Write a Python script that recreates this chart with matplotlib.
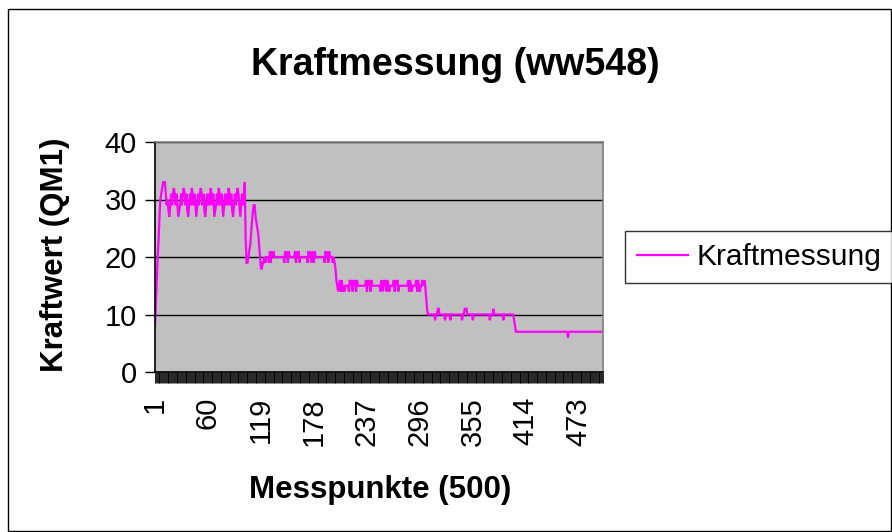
import matplotlib
matplotlib.use("Agg")
import matplotlib.pyplot as plt
from matplotlib.patches import Rectangle
from matplotlib.lines import Line2D

plt.rcParams['font.family'] = ['Liberation Sans', 'DejaVu Sans']

title = "Kraftmessung (ww548)"
x_title = "Messpunkte (500)"
y_title = "Kraftwert (QM1)"
series_name = "Kraftmessung"

# Force readings, one per measuring point (1..500)
level_30 = [
    8, 12, 16, 20, 23, 27, 30, 31, 32, 33, 33, 33, 31, 29,
    30, 28, 27, 29, 31, 29, 31, 32, 31, 29,
    31, 29, 27, 28, 29, 31, 29, 31, 32, 31,
    29, 31, 28, 27, 29, 31, 29, 32, 31, 29,
    31, 29, 27, 29, 31, 29, 31, 32, 31, 29,
    31, 28, 27, 29, 31, 29, 31, 29, 32, 31,
    29, 31, 27, 28, 29, 31, 29, 32, 31, 29,
    31, 29, 27, 29, 31, 29, 31, 29, 32, 31,
    29, 31, 28, 27, 29, 31, 29, 31, 32, 31,
    29, 27, 29, 31, 29, 31, 33,
]
transition_1 = [23, 19, 19, 20, 21, 22, 24, 26, 28, 29, 29, 27, 26, 25, 24, 22, 20, 18, 18, 19]
level_20 = [
    19, 20, 19, 20, 20, 20,
    19, 21, 19, 21, 20, 21, 20,
    20, 20, 20, 20, 20, 20, 20, 20, 20, 20,
    19, 21, 20, 21, 19, 21, 20,
    20, 20, 20, 20, 20,
    21, 19, 21, 20, 21, 19, 20,
    20, 20, 20, 20, 20, 20, 20,
    19, 21, 20, 21, 19, 20,
    21, 19, 21, 20, 20,
    20, 20, 20, 20, 20, 20, 20, 20,
    19, 21, 20, 21, 19, 21, 20,
    20, 20, 19,
]
transition_2 = [20, 19, 18, 16, 15, 14]
level_15 = [
    15, 16, 14, 16, 14, 15, 14, 15, 15, 15, 15,
    14, 16, 15, 16, 14, 16, 15, 16, 14, 16, 15, 15,
    15, 15, 15, 15, 15, 15, 15,
    16, 14, 16, 15, 16, 14, 16, 15,
    15, 15, 15, 15, 15, 15, 15, 15,
    14, 16, 15, 14, 16, 15, 16, 14, 16, 15, 14, 15,
    15, 15, 15,
    16, 14, 16, 15, 16, 14, 15,
    15, 15, 15, 15, 15, 15, 15, 15, 15,
    16, 14, 16, 15, 14, 15,
    15, 15, 15,
    16, 14, 16, 15, 14, 15,
    15, 16, 15, 16,
]
transition_3 = [15, 13, 11, 10]
level_10 = [
    10, 10, 10, 10, 10, 10, 10, 9, 10, 10, 11, 11,
    10, 10, 10, 10, 10, 10, 9, 10, 10, 10, 10, 10, 9,
    10, 10, 10, 10, 10, 10, 10, 10, 10, 10, 10,
    10, 9, 10, 10, 11, 11, 11, 10,
    10, 10, 10, 10, 10, 9,
    10, 10, 10, 10, 10, 10, 10, 10, 10, 10, 10, 10, 10, 10, 10, 10, 10, 10,
    9, 10, 10, 10, 11, 10,
    10, 10, 10, 10, 10, 10, 10, 10, 10, 9,
    10, 10, 10, 10, 10, 10, 10, 10, 10, 10, 10,
]
level_7 = [9, 8] + [7] * 58 + [6] + [7] * 39

kraft = level_30 + transition_1 + level_20 + transition_2 + level_15 + transition_3 + level_10 + level_7
points = list(range(1, len(kraft) + 1))
label_step = 59

W, H = 892, 532
fig = plt.figure(figsize=(W / 100, H / 100), dpi=100)
fig.patch.set_facecolor('white')

# outer chart border
fig.patches.append(Rectangle((8 / W, 1 / H), (W - 9) / W, (H - 10) / H, transform=fig.transFigure,
                             fill=False, edgecolor='black', linewidth=1.0))

ax = fig.add_axes([155 / W, 1 - 372 / H, 448 / W, 230 / H])
ax.set_facecolor('#C0C0C0')
ax.plot(range(len(kraft)), kraft, color='#FF00FF', linewidth=1.6, solid_joinstyle='miter')
ax.set_xlim(0, len(kraft) - 1)
ax.set_ylim(0, 40)
ax.set_yticks([0, 10, 20, 30, 40])
ax.yaxis.grid(True, color='black', linewidth=1.0)
ax.set_axisbelow(True)

ax.set_xticks(range(len(kraft)))
ax.set_xticklabels([str(p) if (p - 1) % label_step == 0 else '' for p in points], rotation=90, fontsize=21)
ax.tick_params(axis='x', length=8, width=0.6, direction='out', pad=10)
ax.tick_params(axis='y', length=7, width=1, direction='out', pad=6, labelsize=21)

for s in ['top', 'right']:
    ax.spines[s].set_color('#808080')
    ax.spines[s].set_linewidth(1.2)
for s in ['left', 'bottom']:
    ax.spines[s].set_color('black')
    ax.spines[s].set_linewidth(1.2)

fig.text(455 / W, 1 - 65 / H, title, ha='center', va='center', fontsize=27, fontweight='bold')
fig.text(380 / W, 1 - 490 / H, x_title, ha='center', va='center', fontsize=22.5, fontweight='bold')
fig.text(55 / W, 1 - 255 / H, y_title, ha='center', va='center', rotation=90, fontsize=22.5, fontweight='bold')

handle = Line2D([], [], color='#FF00FF', linewidth=1.6)
leg = fig.legend([handle], [series_name], loc='center left', bbox_to_anchor=(625 / W, 1 - 257 / H),
                 fontsize=21.5, frameon=True, fancybox=False, shadow=False, borderaxespad=0,
                 handlelength=1.7, handletextpad=0.28, borderpad=0.4)
leg.get_frame().set_edgecolor('black')
leg.get_frame().set_linewidth(1.0)

fig.savefig('out.png', dpi=100)
